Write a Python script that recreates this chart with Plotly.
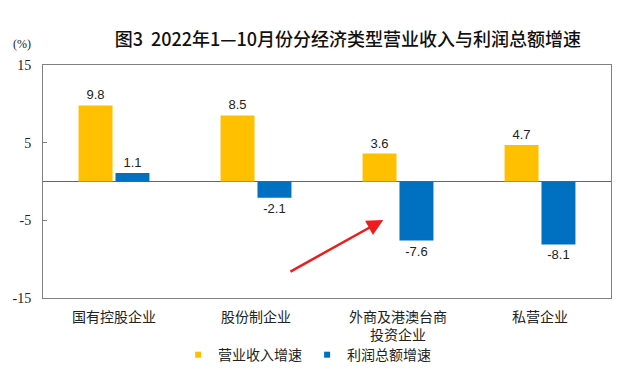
import plotly.graph_objects as go

categories = ["国有控股企业", "股份制企业", "外商及港澳台商<br>投资企业", "私营企业"]
revenue_growth = [9.8, 8.5, 3.6, 4.7]
profit_growth = [1.1, -2.1, -7.6, -8.1]
series_names = ["营业收入增速", "利润总额增速"]
series_colors = ["#FFC000", "#0070C0"]
tick_vals = [-15, -5, 5, 15]

label_font = dict(family="Liberation Sans, Arial", size=13, color="#222")

fig = go.Figure()
for vals, name, color in zip([revenue_growth, profit_growth], series_names, series_colors):
    fig.add_trace(go.Bar(
        x=categories, y=vals, name=name, showlegend=False,
        marker=dict(color=color, line=dict(width=0)),
        text=[f"{v:.1f}" for v in vals], textposition="outside",
        textfont=label_font, cliponaxis=False,
    ))
# legend entries with small square markers
for name, color in zip(series_names, series_colors):
    fig.add_trace(go.Scatter(
        x=[None], y=[None], mode="markers", name=name,
        marker=dict(symbol="square", size=6, color=color),
    ))

fig.update_layout(
    width=629, height=383,
    margin=dict(l=43, r=18, t=65, b=85, autoexpand=False),
    paper_bgcolor="white", plot_bgcolor="white",
    barmode="group", bargap=0.48, bargroupgap=0.08,
    title=dict(text="图3  2022年1—10月份分经济类型营业收入与利润总额增速",
               x=0.553, xanchor="center", y=0.896, yanchor="middle",
               font=dict(family="Noto Sans CJK SC", size=18, color="#111", weight=500)),
    showlegend=True,
    legend=dict(orientation="h", x=0.465, xanchor="center", y=-0.245, yanchor="middle",
                font=dict(family="Noto Sans CJK SC", size=14, color="#222"),
                itemwidth=30, tracegroupgap=0, bgcolor="rgba(0,0,0,0)"),
    font=dict(family="Noto Sans CJK SC"),
)

fig.update_xaxes(
    showline=True, linecolor="#808080", linewidth=1, mirror=True,
    showgrid=False, ticks="", tickfont=dict(family="Noto Sans CJK SC", size=14, color="#222"),
    automargin=False, ticklabelstandoff=6,
)
fig.update_yaxes(
    range=[-15, 15], tickvals=tick_vals, ticktext=[str(v) for v in tick_vals],
    showline=True, linecolor="#808080", linewidth=1, mirror=True,
    showgrid=False, zeroline=True, zerolinecolor="#666", zerolinewidth=1,
    ticks="inside", ticklen=4, tickcolor="#808080",
    tickfont=dict(family="Liberation Serif, Times New Roman", size=14, color="#222"),
    automargin=False, ticklabelstandoff=8,
)

fig.add_annotation(text="(%)", xref="paper", yref="paper", x=-0.037, y=1.052,
                   xanchor="center", yanchor="bottom", showarrow=False,
                   font=dict(family="Liberation Serif", size=12, color="#222"))

# red arrow
fig.add_annotation(xref="x domain", yref="y domain", x=0.599, y=0.335,
                   axref="x domain", ayref="y domain", ax=0.433, ay=0.11,
                   text="", showarrow=True,
                   arrowhead=2, arrowsize=1.3, arrowwidth=2.5, arrowcolor="#EE1C1C")

fig.write_html("out.html", config={"displayModeBar": False},
               post_script="document.body.style.margin='0';")
